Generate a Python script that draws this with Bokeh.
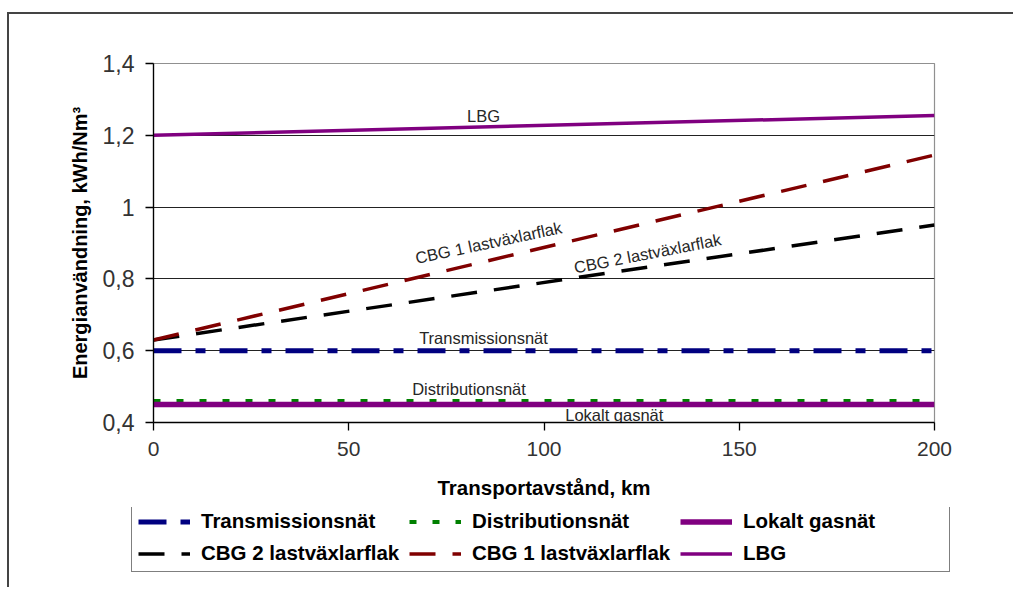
from bokeh.plotting import figure
from bokeh.models import (Range1d, FixedTicker, CustomJSTickFormatter, Legend, LegendItem,
                          ColumnDataSource)
from bokeh.layouts import column
from bokeh.core.properties import value
from bokeh.embed import file_html
from bokeh.resources import INLINE
import math

# ---------------- data ----------------
distance_km = [0, 200]
transmission = [0.60, 0.60]
distribution = [0.46, 0.46]
lokalt_gasnat = [0.45, 0.45]
cbg2 = [0.63, 0.95]
cbg1 = [0.63, 1.145]
lbg = [1.20, 1.255]

series_names = ["Transmissionsnät", "Distributionsnät", "Lokalt gasnät",
                "CBG 2 lastväxlarflak", "CBG 1 lastväxlarflak", "LBG"]
series_values = [transmission, distribution, lokalt_gasnat, cbg2, cbg1, lbg]

x_ticks = [0, 50, 100, 150, 200]
y_ticks = [0.4, 0.6, 0.8, 1.0, 1.2, 1.4]

# in-chart annotation labels (data coordinates)
ann_text = ["LBG", "CBG 1 lastväxlarflak", "CBG 2 lastväxlarflak",
            "Transmissionsnät", "Distributionsnät", "Lokalt gasnät"]
ann_x = [84.5, 85.8, 126.5, 84.5, 80.8, 118.0]
ann_y = [1.255, 0.901, 0.871, 0.634, 0.492, 0.422]
ann_angle_deg = [0, 12, 11, 0, 0, 0]

FONT = "Liberation Sans"

# line styles per series
styles = [
    dict(line_color="#000080", line_width=5, line_dash="28 14 10 14", line_cap="butt"),
    dict(line_color="#008000", line_width=4, line_dash="7 16", line_cap="butt"),
    dict(line_color="#800080", line_width=5.5),
    dict(line_color="black", line_width=3.5, line_dash="26 17", line_cap="butt"),
    dict(line_color="#800000", line_width=3.5, line_dash="26 17", line_cap="butt"),
    dict(line_color="#800080", line_width=3.5),
]

p = figure(width=1013, height=507, output_backend="svg", toolbar_location=None,
           x_range=Range1d(0, 200), y_range=Range1d(0.4, 1.4),
           min_border_left=153, min_border_right=79, min_border_top=63, min_border_bottom=85)
p.frame_align = False
p.background_fill_color = "white"
p.border_fill_color = None
p.outline_line_color = "#909090"
p.outline_line_width = 1.2

# grid
p.xgrid.visible = False
p.ygrid.ticker = FixedTicker(ticks=y_ticks)
p.ygrid.grid_line_color = "#222222"
p.ygrid.grid_line_width = 1

# axes
for ax in (p.xaxis[0], p.yaxis[0]):
    ax.axis_line_color = "black"
    ax.axis_line_width = 1.3
    ax.major_tick_line_color = "black"
    ax.major_tick_line_width = 1.3
    ax.major_tick_out = 8
    ax.major_tick_in = 0
    ax.minor_tick_line_color = None
    ax.major_label_text_font = FONT
    ax.major_label_text_color = "#333333"
    ax.axis_label_text_font = FONT
    ax.axis_label_text_font_style = "bold"
    ax.axis_label_text_color = "black"

p.xaxis.major_label_text_font_size = "21px"
p.yaxis.major_label_text_font_size = "23px"
p.xaxis.ticker = FixedTicker(ticks=x_ticks)
p.yaxis.ticker = FixedTicker(ticks=y_ticks)
p.yaxis.formatter = CustomJSTickFormatter(
    code="var s = (Math.round(tick*10)/10).toString(); return s.replace('.', ',');")
p.xaxis.axis_label = "Transportavstånd, km"
p.yaxis.axis_label = "Energianvändning, kWh/Nm³"
p.xaxis.axis_label_text_font_size = "20.5px"
p.yaxis.axis_label_text_font_size = "20px"
p.xaxis.major_label_standoff = 11
p.yaxis.major_label_standoff = 11
p.xaxis.axis_label_standoff = 17
p.yaxis.axis_label_standoff = 9

for vals, st in zip(series_values, styles):
    p.line(distance_km, vals, **st)

# annotation labels
src = ColumnDataSource(dict(x=ann_x, y=ann_y, text=ann_text,
                            angle=[math.radians(a) for a in ann_angle_deg]))
p.text(x="x", y="y", text="text", angle="angle", source=src,
       text_font=value(FONT), text_font_size="16.5px", text_color="#262626",
       text_align="center", text_baseline="middle")

# ---------------- legend strip ----------------
leg = figure(width=1013, height=80, output_backend="svg", toolbar_location=None,
             x_range=Range1d(1000, 1001), y_range=Range1d(1000, 1001),
             x_axis_location=None, y_axis_location=None,
             min_border_left=0, min_border_right=0, min_border_top=0, min_border_bottom=0)
leg.frame_align = False
leg.background_fill_color = None
leg.border_fill_color = None
leg.outline_line_color = None
leg.xgrid.visible = False
leg.ygrid.visible = False

leg_renderers = [leg.line(distance_km, vals, **st) for vals, st in zip(series_values, styles)]
items = [LegendItem(label=n, renderers=[r]) for n, r in zip(series_names, leg_renderers)]
legend = Legend(items=items, location=(131, 15), orientation="horizontal", ncols=3,
                label_text_font=FONT, label_text_font_style="bold",
                label_text_font_size="20.5px", label_text_color="black",
                label_height=23, glyph_height=23, glyph_width=52,
                label_standoff=11, label_width=200, spacing=8, padding=6, margin=0,
                border_line_color="black", border_line_width=1.5,
                background_fill_color="white", background_fill_alpha=1.0)
leg.add_layout(legend, "center")

layout = column(p, leg, spacing=0,
                styles={"box-shadow": "inset 7px 12px 0 0 white, inset 9px 14px 0 0 #444444",
                        "background-color": "white"})

open("out.html", "w").write(file_html(layout, INLINE))
